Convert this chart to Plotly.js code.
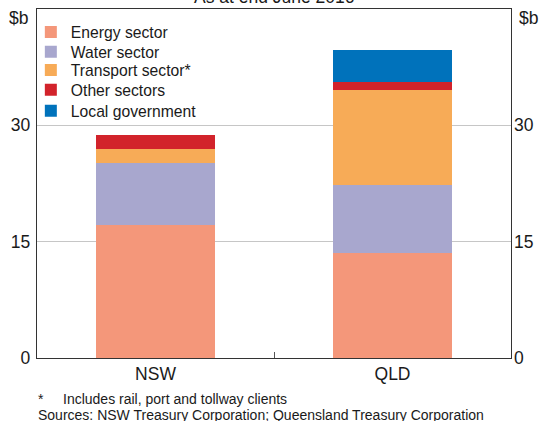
<!DOCTYPE html>
<html>
<head>
<meta charset="utf-8">
<script src="https://cdn.plot.ly/plotly-3.0.1.min.js"></script>
<style>html,body{margin:0;padding:0;background:#fff;}#chart{width:550px;height:421px;}</style>
</head>
<body>
<div id="chart"></div>
<script>
// ---- data ----
const categories = ["NSW", "QLD"];
const seriesNames = ["Energy sector", "Water sector", "Transport sector*", "Other sectors", "Local government"];
const energy = [17.1, 13.6];
const water = [8.0, 8.65];
const transport = [1.9, 12.3];
const other = [1.8, 1.05];
const localGov = [0, 4.1];
const yTicks = [0, 15, 30];
const yTickLabels = ["0", "15", "30"];
const titleText = "As at end June 2016";
const unitLabel = "$b";
const footnote = "Includes rail, port and tollway clients";
const sources = "Sources: NSW Treasury Corporation; Queensland Treasury Corporation";

const colors = ["#F4977A", "#A8A7CE", "#F7AB57", "#D2232B", "#0072BB"];
const seriesValues = [energy, water, transport, other, localGov];
const FONT = "Liberation Sans, Arial, sans-serif";
const TXT = "#1a1a1a";

// legend item centre positions (paper y)
const legendY = [0.9335, 0.877, 0.8245, 0.768, 0.7075];

const traces = seriesValues.map((vals, i) => ({
  type: "bar",
  name: seriesNames[i],
  x: categories,
  y: vals,
  marker: {color: colors[i], line: {width: 0}},
  legend: i === 0 ? "legend" : "legend" + (i + 1),
  hoverinfo: "skip"
}));
// dummy trace to activate right axis
traces.push({type: "scatter", mode: "markers", x: categories, y: [null, null], yaxis: "y2", showlegend: false, hoverinfo: "skip"});

const layout = {
  width: 550, height: 421,
  margin: {l: 37, r: 39, t: 9, b: 63, pad: 0},
  paper_bgcolor: "#fff", plot_bgcolor: "#fff",
  font: {family: FONT, color: TXT, size: 17},
  barmode: "stack",
  bargap: 0.5,
  showlegend: true,
  xaxis: {
    type: "category",
    showline: true, mirror: true, linecolor: "#333", linewidth: 1.3,
    ticks: "inside", tickson: "boundaries", ticklen: 6, tickcolor: "#555", tickwidth: 1,
    tickfont: {size: 17.5, family: FONT, color: TXT},
    showgrid: false, zeroline: false, fixedrange: true
  },
  yaxis: {
    range: [0, 45],
    tickvals: yTicks, ticktext: yTickLabels,
    tickfont: {size: 17.5, family: FONT, color: TXT},
    showline: true, mirror: true, linecolor: "#333", linewidth: 1.3,
    showgrid: true, gridcolor: "#c6c6c6", gridwidth: 1,
    zeroline: false, ticks: "", ticklabelstandoff: 2, fixedrange: true
  },
  yaxis2: {
    overlaying: "y", side: "right", range: [0, 45],
    tickvals: yTicks, ticktext: yTickLabels,
    tickfont: {size: 17.5, family: FONT, color: TXT},
    showline: false, showgrid: false, zeroline: false, ticks: "", ticklabelstandoff: 2, fixedrange: true
  },
  annotations: [
    {text: titleText, xref: "paper", yref: "paper", x: 0.5, y: 1.0338, xanchor: "center", yanchor: "middle", showarrow: false, font: {size: 17.5, family: FONT, color: TXT}},
    {text: unitLabel, xref: "paper", yref: "paper", x: -0.015, y: 0.973, xanchor: "right", yanchor: "middle", showarrow: false, font: {size: 17.5, family: FONT, color: TXT}},
    {text: unitLabel, xref: "paper", yref: "paper", x: 1.013, y: 0.973, xanchor: "left", yanchor: "middle", showarrow: false, font: {size: 17.5, family: FONT, color: TXT}},
    {text: "*", xref: "paper", yref: "paper", x: -0.003, y: -0.1176, xanchor: "left", yanchor: "middle", showarrow: false, font: {size: 14, family: FONT, color: TXT}},
    {text: footnote, xref: "paper", yref: "paper", x: 0.0506, y: -0.1176, xanchor: "left", yanchor: "middle", showarrow: false, font: {size: 14, family: FONT, color: TXT}},
    {text: sources, xref: "paper", yref: "paper", x: -0.003, y: -0.1634, xanchor: "left", yanchor: "middle", showarrow: false, font: {size: 14, family: FONT, color: TXT}}
  ]
};

legendY.forEach((yy, i) => {
  const key = i === 0 ? "legend" : "legend" + (i + 1);
  layout[key] = {
    x: -0.013, y: yy, xanchor: "left", yanchor: "middle",
    bgcolor: "rgba(0,0,0,0)", borderwidth: 0,
    font: {size: 15.7, family: FONT, color: TXT},
    itemwidth: 30, itemclick: false, itemdoubleclick: false
  };
});

Plotly.newPlot("chart", traces, layout, {displayModeBar: false, staticPlot: true});
</script>
</body>
</html>
